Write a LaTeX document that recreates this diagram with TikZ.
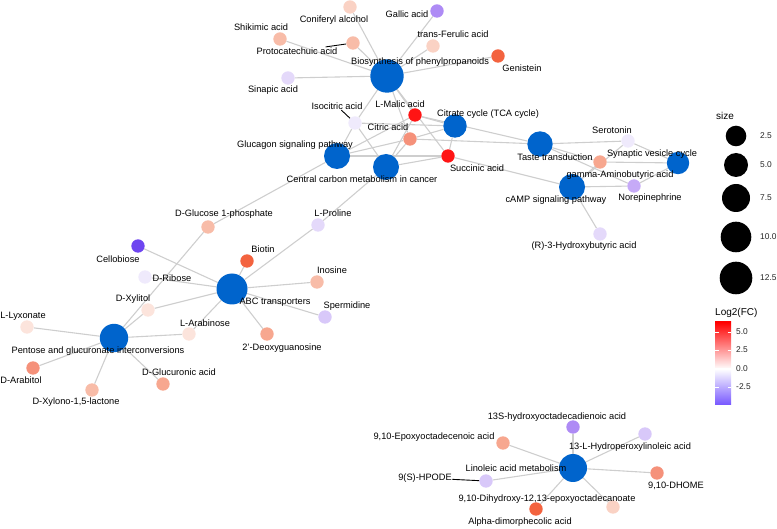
\documentclass[tikz,border=0pt]{standalone}
\usepackage{fontspec}
\setmainfont{Liberation Sans}
\usetikzlibrary{backgrounds}

\definecolor{hubblue}{RGB}{0,100,204}
\definecolor{edgegray}{RGB}{206,206,206}
\definecolor{lowcol}{RGB}{118,86,255}
\definecolor{up1}{RGB}{252,228,220}
\definecolor{up2}{RGB}{250,210,196}
\definecolor{up3}{RGB}{248,188,168}
\definecolor{up4}{RGB}{247,167,143}
\definecolor{up5}{RGB}{245,145,122}
\definecolor{up6}{RGB}{243,99,63}
\definecolor{up7}{RGB}{255,20,20}
\definecolor{dn1}{RGB}{239,234,252}
\definecolor{dn2}{RGB}{228,217,250}
\definecolor{dn3}{RGB}{216,200,249}
\definecolor{dn4}{RGB}{198,170,247}
\definecolor{dn5}{RGB}{174,139,245}
\definecolor{dn6}{RGB}{110,69,240}

\begin{document}
\begin{tikzpicture}[x=1pt,y=-1pt,
    hub/.style={circle,fill=hubblue,inner sep=0pt,minimum size=#1},
    met/.style={circle,fill=#1,inner sep=0pt,minimum size=13.4pt},
    lab/.style={inner sep=0.5pt,font=\fontsize{9.25}{10}\selectfont},
    edge/.style={draw=edgegray,line width=1.1pt},
    seg/.style={draw=black,line width=0.9pt},
    key/.style={inner sep=0pt,anchor=west,text=black!85,font=\fontsize{8.4}{9}\selectfont},
    keytitle/.style={inner sep=0pt,anchor=west,font=\fontsize{10}{11}\selectfont}]

\useasboundingbox (0,0) rectangle (777,529);

% Pathway hubs
\node[hub=33.4pt] (bio) at (387,76) {};
\node[hub=23.4pt] (tca) at (455,126) {};
\node[hub=26pt] (glu) at (337,156) {};
\node[hub=26pt] (ccm) at (386,167) {};
\node[hub=25.4pt] (taste) at (540,144) {};
\node[hub=22.4pt] (syn) at (678,163) {};
\node[hub=26pt] (camp) at (572,187) {};
\node[hub=31pt] (abc) at (232,289) {};
\node[hub=28.4pt] (pen) at (114,338) {};
\node[hub=28pt] (lin) at (573,468) {};

% Metabolites, coloured by Log2(FC)
\node[met=up2] (conif) at (350,7) {};
\node[met=dn5] (gallic) at (437,11) {};
\node[met=up3] (shik) at (280,39) {};
\node[met=up3] (proto) at (353,43) {};
\node[met=up2] (ferul) at (433,46) {};
\node[met=up6] (genis) at (498,56) {};
\node[met=dn2] (sinap) at (288,78) {};
\node[met=dn1] (isocit) at (355,123) {};
\node[met=up7] (malic) at (415,115) {};
\node[met=up5] (citric) at (410,139) {};
\node[met=up7] (succ) at (448,156) {};
\node[met=dn1] (sero) at (628,141) {};
\node[met=up4] (gaba) at (600,162) {};
\node[met=dn4] (norep) at (634,186) {};
\node[met=dn2] (hbut) at (600,234) {};
\node[met=up3] (g1p) at (208,227) {};
\node[met=dn2] (pro) at (318,225) {};
\node[met=dn6] (cello) at (138,246) {};
\node[met=up6] (biot) at (247,261) {};
\node[met=dn1] (ribo) at (145,277) {};
\node[met=up3] (ino) at (317,282) {};
\node[met=up1] (xylit) at (148,310) {};
\node[met=dn3] (sperm) at (325,317) {};
\node[met=up4] (dgua) at (267,334) {};
\node[met=up1] (arab) at (189,334) {};
\node[met=up1] (lyx) at (27,327) {};
\node[met=up5] (arabit) at (33,368) {};
\node[met=up4] (glca) at (163,384) {};
\node[met=up3] (xylono) at (92,390) {};
\node[met=dn5] (hode) at (573,427) {};
\node[met=dn3] (hpo) at (645,434) {};
\node[met=up4] (epox) at (503,443) {};
\node[met=dn3] (hpode) at (486,481) {};
\node[met=up5] (dhome) at (657,473) {};
\node[met=up2] (dihyd) at (613,507) {};
\node[met=up6] (alpha) at (536,509) {};

% Edges between hubs and metabolites
\begin{pgfonlayer}{background}
\foreach \m in {conif,gallic,shik,proto,ferul,genis,sinap,isocit,malic,citric,succ}
  \draw[edge] (bio) -- (\m);
\foreach \m in {isocit,malic,citric,succ}
  \draw[edge] (tca) -- (\m);
\foreach \m in {isocit,malic,citric,succ,g1p}
  \draw[edge] (glu) -- (\m);
\foreach \m in {isocit,malic,citric,succ,pro}
  \draw[edge] (ccm) -- (\m);
\foreach \m in {malic,citric,sero,gaba,norep}
  \draw[edge] (taste) -- (\m);
\foreach \m in {sero,gaba,norep}
  \draw[edge] (syn) -- (\m);
\foreach \m in {succ,gaba,norep,hbut,sero}
  \draw[edge] (camp) -- (\m);
\foreach \m in {pro,cello,biot,ribo,ino,xylit,arab,sperm,dgua}
  \draw[edge] (abc) -- (\m);
\foreach \m in {g1p,lyx,xylit,arab,arabit,glca,xylono}
  \draw[edge] (pen) -- (\m);
\foreach \m in {hode,hpo,epox,hpode,dhome,dihyd,alpha}
  \draw[edge] (lin) -- (\m);
\end{pgfonlayer}

% Labels
\node[lab] (bio-l) at (420,62) {Biosynthesis of phenylpropanoids};
\node[lab] (tca-l) at (488,114) {Citrate cycle (TCA cycle)};
\node[lab] (glu-l) at (295,145) {Glucagon signaling pathway};
\node[lab] (ccm-l) at (362,179) {Central carbon metabolism in cancer};
\node[lab] (taste-l) at (555,157) {Taste transduction};
\node[lab] (syn-l) at (652,154) {Synaptic vesicle cycle};
\node[lab] (camp-l) at (556,200) {cAMP signaling pathway};
\node[lab] (abc-l) at (275,302) {ABC transporters};
\node[lab] (pen-l) at (98,351) {Pentose and glucuronate interconversions};
\node[lab] (lin-l) at (516,468) {Linoleic acid metabolism};

\node[lab] (conif-l) at (334,20) {Coniferyl alcohol};
\node[lab] (gallic-l) at (407,14) {Gallic acid};
\node[lab] (shik-l) at (261,27) {Shikimic acid};
\node[lab] (proto-l) at (297,51) {Protocatechuic acid};
\node[lab] (ferul-l) at (453,34) {trans-Ferulic acid};
\node[lab] (genis-l) at (522,68) {Genistein};
\node[lab] (sinap-l) at (273,90) {Sinapic acid};
\node[lab] (isocit-l) at (337,106) {Isocitric acid};
\node[lab] (malic-l) at (400,104) {L-Malic acid};
\node[lab] (citric-l) at (388,127) {Citric acid};
\node[lab] (succ-l) at (477,168) {Succinic acid};
\node[lab] (sero-l) at (612,130) {Serotonin};
\node[lab] (gaba-l) at (620,175) {gamma-Aminobutyric acid};
\node[lab] (norep-l) at (650,198) {Norepinephrine};
\node[lab] (hbut-l) at (584,246) {(R)-3-Hydroxybutyric acid};
\node[lab] (g1p-l) at (224,214) {D-Glucose 1-phosphate};
\node[lab] (pro-l) at (333,213) {L-Proline};
\node[lab] (cello-l) at (118,259) {Cellobiose};
\node[lab] (biot-l) at (263,249) {Biotin};
\node[lab] (ribo-l) at (172,278) {D-Ribose};
\node[lab] (ino-l) at (332,270) {Inosine};
\node[lab] (xylit-l) at (133,299) {D-Xylitol};
\node[lab] (sperm-l) at (347,306) {Spermidine};
\node[lab] (dgua-l) at (282,348) {2'-Deoxyguanosine};
\node[lab] (arab-l) at (205,323) {L-Arabinose};
\node[lab] (lyx-l) at (23,316) {L-Lyxonate};
\node[lab] (arabit-l) at (21,380) {D-Arabitol};
\node[lab] (glca-l) at (179,372) {D-Glucuronic acid};
\node[lab] (xylono-l) at (76,402) {D-Xylono-1,5-lactone};
\node[lab] (hode-l) at (557,417) {13S-hydroxyoctadecadienoic acid};
\node[lab] (hpo-l) at (630,447) {13-L-Hydroperoxylinoleic acid};
\node[lab] (epox-l) at (434,437) {9,10-Epoxyoctadecenoic acid};
\node[lab] (hpode-l) at (425,478) {9(S)-HPODE};
\node[lab] (dhome-l) at (676,486) {9,10-DHOME};
\node[lab] (dihyd-l) at (547,499) {9,10-Dihydroxy-12,13-epoxyoctadecanoate};
\node[lab] (alpha-l) at (520,522) {Alpha-dimorphecolic acid};

% Label pointers
\draw[seg] (proto-l) -- (proto);
\draw[seg] (isocit-l) -- (isocit);
\draw[seg] (hpode-l) -- (hpode);

% Legend: size
\node[keytitle] (size-t) at (716,116) {size};
\foreach \yy/\dd/\tt [count=\i] in {136/20.6/2.5, 165/24/5.0, 198/28/7.5, 237/30.6/10.0, 278/32.6/12.5} {
  \node[circle,fill=black,inner sep=0pt,minimum size=\dd pt] (sz\i) at (736,\yy) {};
  \node[key] (szl\i) at (760,\yy) {\tt};
}

% Legend: Log2(FC)
\node[keytitle] (fc-t) at (715,313) {Log2(FC)};
\shade[top color=red,bottom color=white] (715,322) rectangle (731,369);
\shade[top color=white,bottom color=lowcol] (715,369) rectangle (731,405);
\foreach \ty/\tt [count=\i] in {332/5.0, 350/2.5, 369/0.0, 387/-2.5} {
  \draw[white,line width=0.6pt] (715,\ty) -- (718.5,\ty);
  \draw[white,line width=0.6pt] (727.5,\ty) -- (731,\ty);
  \node[key] (fcl\i) at (736,\ty) {\tt};
}
\end{tikzpicture}
\end{document}
